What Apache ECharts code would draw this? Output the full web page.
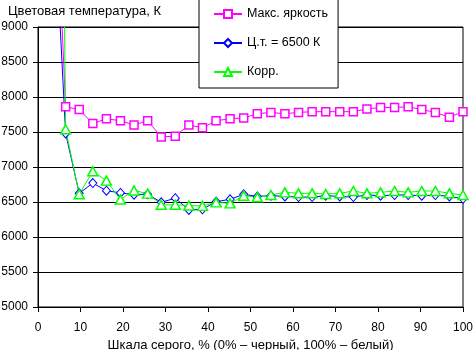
<!DOCTYPE html>
<html><head><meta charset="utf-8">
<script src="https://cdn.jsdelivr.net/npm/echarts@6/dist/echarts.min.js"></script>
<style>html,body{margin:0;padding:0;background:#fff}#c{width:473px;height:350px}</style>
</head><body><div id="c"></div>
<script>
const grayX = [3.2, 6.5, 9.7, 12.9, 16.1, 19.4, 22.6, 25.8, 29.0, 32.3, 35.5, 38.7, 41.9, 45.2, 48.4, 51.6, 54.8, 58.1, 61.3, 64.5, 67.7, 71.0, 74.2, 77.4, 80.6, 83.9, 87.1, 90.3, 93.5, 96.8, 100];
const maxBright = [12400, 7860, 7820, 7620, 7690, 7660, 7600, 7660, 7430, 7440, 7600, 7560, 7660, 7690, 7700, 7760, 7780, 7760, 7780, 7790, 7790, 7790, 7790, 7830, 7850, 7850, 7860, 7820, 7780, 7710, 7790];
const ct6500 = [11400, 7480, 6624, 6770, 6662, 6630, 6605, 6612, 6495, 6555, 6386, 6395, 6505, 6538, 6610, 6580, 6590, 6580, 6570, 6570, 6590, 6580, 6570, 6600, 6590, 6600, 6600, 6590, 6600, 6580, 6545];
const corr = [27000, 7540, 6610, 6940, 6805, 6535, 6665, 6620, 6460, 6460, 6450, 6445, 6495, 6480, 6590, 6567, 6600, 6638, 6624, 6624, 6614, 6624, 6657, 6624, 6638, 6657, 6638, 6657, 6657, 6624, 6600];
const seriesNames = ['Макс. яркость', 'Ц.т. = 6500 К', 'Корр.'];
const titleText = 'Цветовая температура, К';
const xTitle = 'Шкала серого, % (0% – черный, 100% – белый)';

const font = 'Arial, "Liberation Sans", sans-serif';
function pairs(v){ return v.map((y,i)=>[grayX[i], y]); }
const chart = echarts.init(document.getElementById('c'), null, {renderer:'canvas'});
chart.setOption({
  animation:false,
  backgroundColor:'#fff',
  textStyle:{fontFamily:font},
  title:{text:titleText,left:3,top:0,textStyle:{fontSize:13,fontWeight:'normal',color:'#000',fontFamily:font}},
  grid:{left:38,right:10,top:27,bottom:43,containLabel:false,outerBoundsMode:'none',
        show:true,borderColor:'#000',borderWidth:1,backgroundColor:'transparent'},
  legend:{
    orient:'vertical',left:199,top:-1,
    padding:[8,10,9,14],itemGap:15,itemWidth:28,itemHeight:10,
    backgroundColor:'#fff',borderColor:'#000',borderWidth:1,borderRadius:0,
    textStyle:{fontSize:12.5,color:'#000',fontFamily:font,lineHeight:14},
    data:seriesNames
  },
  xAxis:{
    type:'value',min:0,max:100,interval:10,
    name:xTitle,nameLocation:'middle',nameGap:26,
    nameTextStyle:{fontSize:13,color:'#000',fontFamily:font},
    axisLine:{lineStyle:{color:'#000',width:1}},
    axisTick:{show:true,length:5,lineStyle:{color:'#000'}},
    axisLabel:{fontSize:12,color:'#000',margin:15,fontFamily:font,formatter:v=>String(v)},
    splitLine:{show:false}
  },
  yAxis:{
    type:'value',min:5000,max:9000,interval:500,
    axisLine:{show:true,lineStyle:{color:'#000',width:1}},
    axisTick:{show:true,length:5,lineStyle:{color:'#000'}},
    axisLabel:{fontSize:12,color:'#000',margin:10,fontFamily:font,formatter:v=>String(v)},
    splitLine:{show:true,lineStyle:{color:'#000',width:1}}
  },
  series:[
    {name:seriesNames[0],type:'line',data:pairs(maxBright),clip:true,
     symbol:'rect',symbolSize:8,color:'#ff00ff',
     lineStyle:{color:'#ff00ff',width:1},
     itemStyle:{color:'#fff',borderColor:'#ff00ff',borderWidth:1.5}},
    {name:seriesNames[1],type:'line',data:pairs(ct6500),clip:true,
     symbol:'diamond',symbolSize:[8,9],color:'#0000ff',
     lineStyle:{color:'#0000ff',width:1},
     itemStyle:{color:'#fff',borderColor:'#0000ff',borderWidth:1}},
    {name:seriesNames[2],type:'line',data:pairs(corr),clip:true,
     symbol:'triangle',symbolSize:[10,9],color:'#00ff00',
     lineStyle:{color:'#00ff00',width:1},
     itemStyle:{color:'#fff',borderColor:'#00ff00',borderWidth:1.5}}
  ]
});
</script></body></html>
